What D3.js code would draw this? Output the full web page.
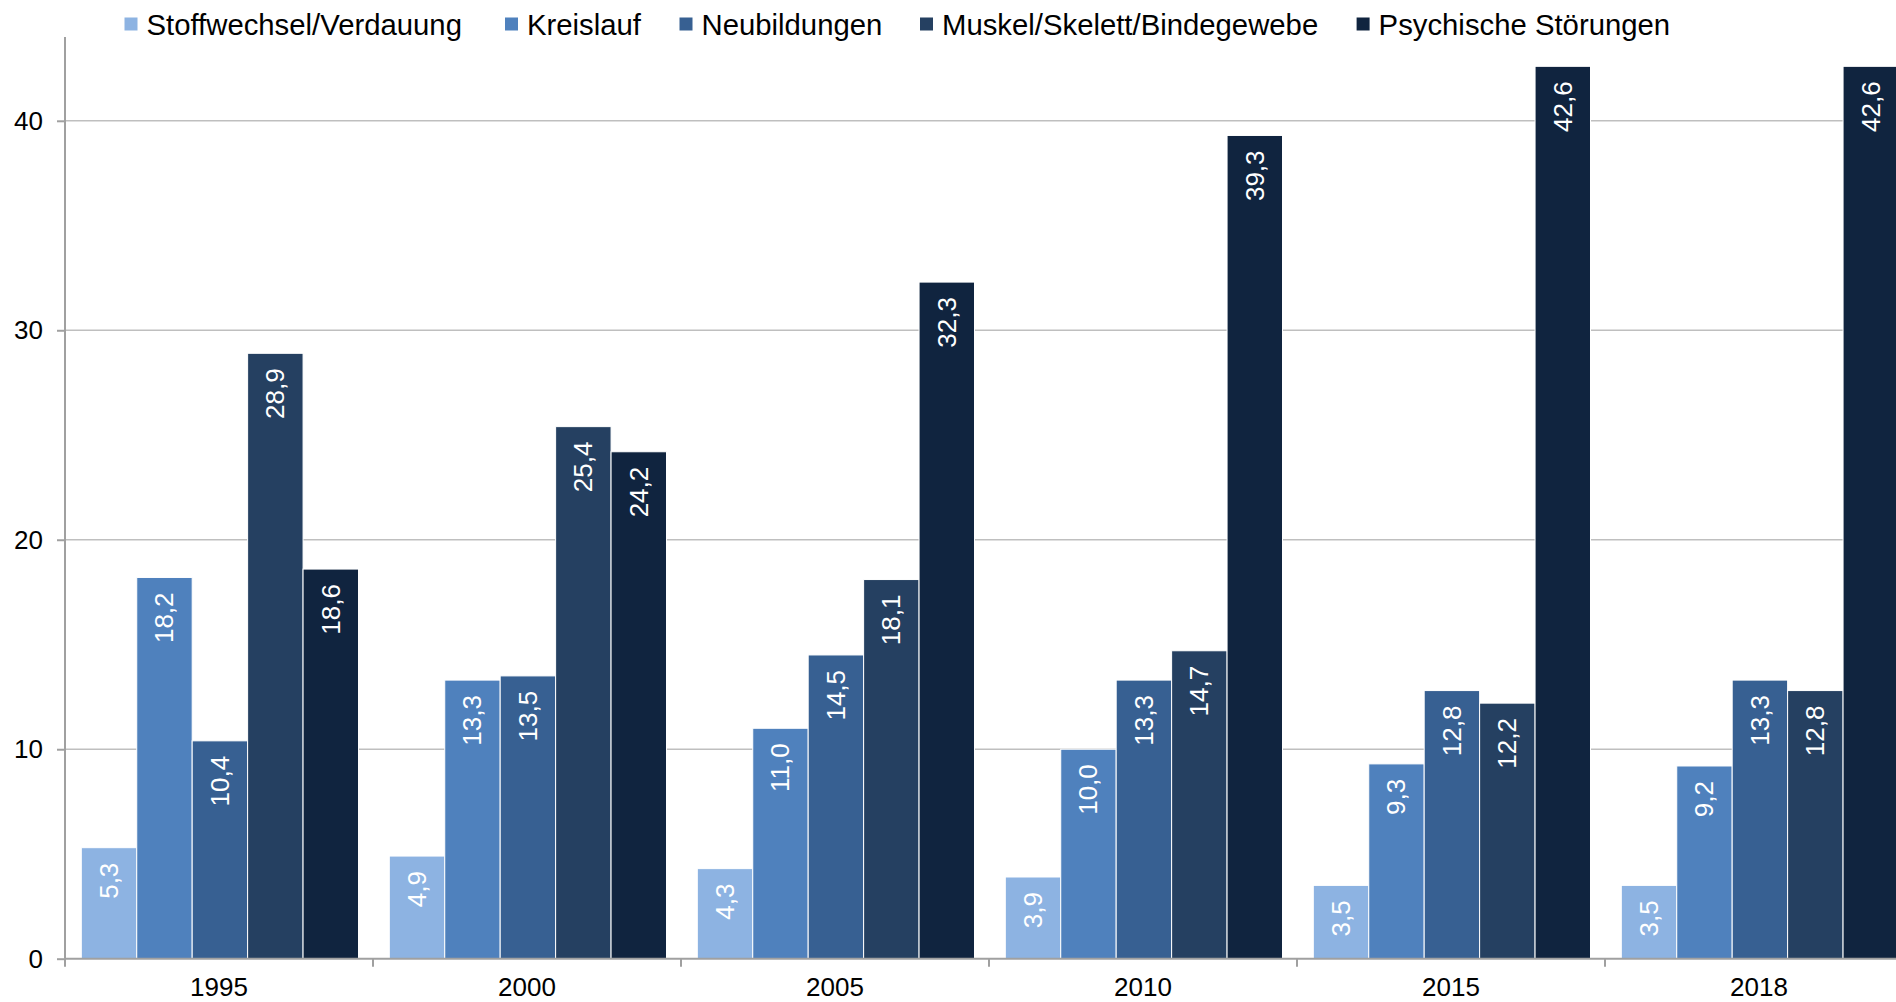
<!DOCTYPE html>
<html>
<head>
<meta charset="utf-8">
<script src="https://cdn.jsdelivr.net/npm/d3@7"></script>
<style>
  body { margin: 0; background: #fff; }
  svg { display: block; font-family: "Liberation Sans", Arial, sans-serif; }
</style>
</head>
<body>
<svg id="chart" width="1896" height="1002"></svg>
<script>
// Data
let years = ["1995", "2000", "2005", "2010", "2015", "2018"];
let seriesNames = ["Stoffwechsel/Verdauung", "Kreislauf", "Neubildungen", "Muskel/Skelett/Bindegewebe", "Psychische Störungen"];
let stoffwechsel = [5.3, 4.9, 4.3, 3.9, 3.5, 3.5];
let kreislauf = [18.2, 13.3, 11.0, 10.0, 9.3, 9.2];
let neubildungen = [10.4, 13.5, 14.5, 13.3, 12.8, 13.3];
let muskel = [28.9, 25.4, 18.1, 14.7, 12.2, 12.8];
let psychisch = [18.6, 24.2, 32.3, 39.3, 42.6, 42.6];
let yTicks = [0, 10, 20, 30, 40];

let colors = ["#8db3e2", "#4f81bd", "#376092", "#254061", "#10243f"];
let allSeries = [stoffwechsel, kreislauf, neubildungen, muskel, psychisch];

let svg = d3.select("#chart");
let margin = { left: 65, top: 37, bottom: 958.7 };
let bandW = 308;

let x0 = d3.scaleBand()
    .domain(years)
    .range([margin.left, margin.left + bandW * years.length])
    .padding(0);

let x1 = d3.scaleBand()
    .domain(seriesNames)
    .range([16.3, bandW - 14.5])
    .padding(0);

let y = d3.scaleLinear()
    .domain([0, 44])
    .range([margin.bottom, margin.top]);

// gridlines
svg.append("g")
    .selectAll("line")
    .data(yTicks.filter(d => d > 0))
    .enter().append("line")
    .attr("x1", margin.left)
    .attr("x2", 1896)
    .attr("y1", d => y(d))
    .attr("y2", d => y(d))
    .attr("stroke", "#bfbfbf")
    .attr("stroke-width", 1.6);

// bars
let groups = svg.append("g")
    .selectAll("g")
    .data(years)
    .enter().append("g")
    .attr("transform", d => "translate(" + x0(d) + ",0)");

groups.each(function(year, i) {
    let g = d3.select(this);
    seriesNames.forEach(function(name, s) {
        let v = allSeries[s][i];
        g.append("rect")
            .attr("x", x1(name))
            .attr("y", y(v))
            .attr("width", x1.bandwidth())
            .attr("height", y(0) - y(v))
            .attr("fill", colors[s])
            .attr("stroke", "#fff")
            .attr("stroke-width", 1);
        let cx = x1(name) + x1.bandwidth() / 2;
        let ty = y(v) + 15;
        g.append("text")
            .attr("transform", "translate(" + cx + "," + ty + ") rotate(-90)")
            .attr("text-anchor", "end")
            .attr("dominant-baseline", "central")
            .attr("fill", "#fff")
            .style("font-size", "26px")
            .text(v.toFixed(1).replace(".", ","));
    });
});

// y axis
let yAxis = svg.append("g")
    .attr("transform", "translate(" + margin.left + ",0)")
    .call(d3.axisLeft(y).tickValues(yTicks).tickSize(8).tickPadding(14).tickFormat(d3.format("d")));
yAxis.select(".domain").attr("stroke", "#a0a0a0").attr("stroke-width", 2)
    .attr("d", "M0," + margin.top + "V" + margin.bottom);
yAxis.selectAll(".tick line").attr("stroke", "#a0a0a0").attr("stroke-width", 2);
yAxis.selectAll(".tick text").attr("fill", "#000").style("font-size", "26px")
    .style("font-family", "Liberation Sans, Arial, sans-serif");

// x axis
let xAxis = svg.append("g")
    .attr("transform", "translate(0," + margin.bottom + ")")
    .call(d3.axisBottom(x0).tickSize(0).tickPadding(19));
xAxis.select(".domain").attr("stroke", "#a0a0a0").attr("stroke-width", 2)
    .attr("d", "M" + margin.left + ",0H1896");
xAxis.selectAll(".tick text").attr("fill", "#000").style("font-size", "26px")
    .style("font-family", "Liberation Sans, Arial, sans-serif");

// band boundary ticks
svg.append("g")
    .selectAll("line")
    .data(d3.range(years.length + 1))
    .enter().append("line")
    .attr("x1", d => margin.left + d * bandW)
    .attr("x2", d => margin.left + d * bandW)
    .attr("y1", margin.bottom)
    .attr("y2", margin.bottom + 8)
    .attr("stroke", "#a0a0a0")
    .attr("stroke-width", 2);

// legend
let legendX = [124.5, 505, 679.5, 920, 1356.6];
let legend = svg.append("g");
seriesNames.forEach(function(name, s) {
    legend.append("rect")
        .attr("x", legendX[s])
        .attr("y", 17.5)
        .attr("width", 13)
        .attr("height", 13)
        .attr("fill", colors[s]);
    legend.append("text")
        .attr("x", legendX[s] + 22)
        .attr("y", 24)
        .attr("dominant-baseline", "central")
        .attr("fill", "#000")
        .style("font-size", "29.3px")
        .text(name);
});
</script>
</body>
</html>
